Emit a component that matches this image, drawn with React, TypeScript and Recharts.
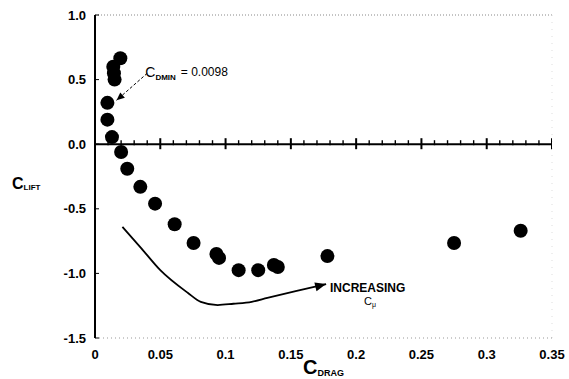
import {
  ScatterChart,
  Scatter,
  XAxis,
  YAxis,
  ReferenceLine,
  ReferenceDot,
  Label
} from "recharts";

// measured points: drag coefficient vs lift coefficient
const cDrag = [0.0095, 0.0095, 0.013, 0.014, 0.0145, 0.015, 0.0194, 0.02, 0.0247, 0.0347, 0.046, 0.061, 0.0755, 0.093, 0.095, 0.11, 0.125, 0.137, 0.14, 0.178, 0.275, 0.326];
const cLift = [0.32, 0.19, 0.055, 0.6, 0.55, 0.5, 0.665, -0.06, -0.19, -0.33, -0.46, -0.62, -0.765, -0.85, -0.88, -0.975, -0.975, -0.935, -0.95, -0.866, -0.765, -0.67];

// "increasing C mu" sweep curve
const curveDrag = [0.021, 0.035, 0.05, 0.071, 0.081, 0.094, 0.106, 0.12, 0.132, 0.157, 0.177];
const curveLift = [-0.64, -0.8, -0.975, -1.15, -1.22, -1.245, -1.235, -1.22, -1.19, -1.13, -1.083];

// dashed pointer from the CDmin note to the min-drag point
const noteDrag = [0.04, 0.0165];
const noteLift = [0.549, 0.34];

const xTicks = [0, 0.05, 0.1, 0.15, 0.2, 0.25, 0.3, 0.35];
const yTicks = [-1.5, -1.0, -0.5, 0.0, 0.5, 1.0];
const minorTicks = [0.01, 0.02, 0.03, 0.04, 0.06, 0.07, 0.08, 0.09, 0.11, 0.12, 0.13, 0.14, 0.16, 0.17, 0.18, 0.19, 0.21, 0.22, 0.23, 0.24, 0.26, 0.27, 0.28, 0.29, 0.31, 0.32, 0.33, 0.34];
const majorTicks = [0.05, 0.1, 0.15, 0.2, 0.25, 0.3, 0.35];

const points = cDrag.map((x, i) => ({ x, y: cLift[i] }));
const curve = curveDrag.map((x, i) => ({ x, y: curveLift[i] }));
const note = noteDrag.map((x, i) => ({ x, y: noteLift[i] }));
const minor = minorTicks.map((x) => ({ x, y: 0 }));
const major = majorTicks.map((x) => ({ x, y: 0 }));

const font = "'Liberation Sans', Arial, sans-serif";

const Dot = (p: any) => <circle cx={p.cx} cy={p.cy} r={7} fill="#000" />;

const CurveHead = (p: any) =>
  p.payload.x === curveDrag[curveDrag.length - 1] ? (
    <polygon
      points="0,0 -11,-4.5 -11,4.5"
      fill="#000"
      transform={`translate(${p.cx},${p.cy}) rotate(-14)`}
    />
  ) : (
    <g />
  );

const NoteHead = (p: any) =>
  p.payload.x === noteDrag[noteDrag.length - 1] ? (
    <polygon
      points="0,0 -8,-3.5 -8,3.5"
      fill="#000"
      transform={`translate(${p.cx},${p.cy}) rotate(139)`}
    />
  ) : (
    <g />
  );

const MinorTick = (p: any) => (
  <path d={`M${p.cx},${p.cy - 4}L${p.cx},${p.cy + 1}`} stroke="#000" strokeWidth={1.4} />
);
const MajorTick = (p: any) => (
  <path d={`M${p.cx},${p.cy - 6}L${p.cx},${p.cy + 5}`} stroke="#000" strokeWidth={2} />
);

const DminText = (p: any) => (
  <text x={p.cx} y={p.cy} fontFamily={font} fill="#000">
    <tspan fontSize={14}>C</tspan>
    <tspan fontSize={8} fontWeight="bold" dy={3}>DMIN</tspan>
    <tspan fontSize={12} dy={-4} dx={5}>= 0.0098</tspan>
  </text>
);

const IncText = (p: any) => (
  <g fontFamily={font} fill="#000">
    <text x={p.cx} y={p.cy} fontSize={12} fontWeight="bold">INCREASING</text>
    <text x={p.cx + 34} y={p.cy + 13} fontSize={11}>
      C<tspan fontSize={7} dy={2}>μ</tspan>
    </text>
  </g>
);

function App() {
  return (
    <div style={{ position: "absolute", left: 0, top: 0, background: "#fff" }}>
      <ScatterChart
        width={569}
        height={379}
        margin={{ top: 15, right: 17, bottom: 0, left: 0 }}
      >
        <XAxis
          type="number"
          dataKey="x"
          domain={[0, 0.35]}
          ticks={xTicks}
          allowDataOverflow
          height={41}
          tickLine={false}
          tickMargin={6}
          axisLine={{ stroke: "#999", strokeDasharray: "1 3" }}
          tick={{ fill: "#000", fontSize: 13, fontWeight: "bold", fontFamily: font }}
        >
          <Label
            content={(p: any) => (
              <text
                x={p.viewBox.x + 208}
                y={p.viewBox.y + 36}
                fontFamily={font}
                fontWeight="bold"
                fill="#000"
              >
                <tspan fontSize={20}>C</tspan>
                <tspan fontSize={9} dy={2}>DRAG</tspan>
              </text>
            )}
          />
        </XAxis>
        <YAxis
          type="number"
          dataKey="y"
          domain={[-1.5, 1.0]}
          ticks={yTicks}
          allowDataOverflow
          width={95}
          tickSize={-4}
          tickMargin={13}
          tickLine={{ stroke: "#000" }}
          axisLine={{ stroke: "#000", strokeWidth: 2 }}
          tickFormatter={(v: number) => v.toFixed(1)}
          tick={{ fill: "#000", fontSize: 13, fontWeight: "bold", fontFamily: font }}
        >
          <Label
            content={(p: any) => (
              <text
                x={12}
                y={p.viewBox.y + 174}
                fontFamily={font}
                fontWeight="bold"
                fill="#000"
              >
                <tspan fontSize={16}>C</tspan>
                <tspan fontSize={8} dy={1}>LIFT</tspan>
              </text>
            )}
          />
        </YAxis>
        <ReferenceLine y={1} stroke="#888" strokeDasharray="1 2" />
        <ReferenceLine x={0.35} stroke="#ddd" strokeDasharray="1 6" />
        <ReferenceLine y={0} stroke="#000" strokeWidth={2} />
        <Scatter data={minor} shape={MinorTick} isAnimationActive={false} />
        <Scatter data={major} shape={MajorTick} isAnimationActive={false} />
        <Scatter
          data={curve}
          line={{ stroke: "#000", strokeWidth: 1.8 }}
          lineType="joint"
          lineJointType="monotoneX"
          shape={CurveHead}
          isAnimationActive={false}
        />
        <Scatter
          data={note}
          line={{ stroke: "#000", strokeWidth: 1, strokeDasharray: "3 2" }}
          lineType="joint"
          shape={NoteHead}
          isAnimationActive={false}
        />
        <Scatter data={points} shape={Dot} isAnimationActive={false} />
        <ReferenceDot x={0.0385} y={0.518} shape={DminText} />
        <ReferenceDot x={0.18} y={-1.145} shape={IncText} />
      </ScatterChart>
    </div>
  );
}

export default App;
